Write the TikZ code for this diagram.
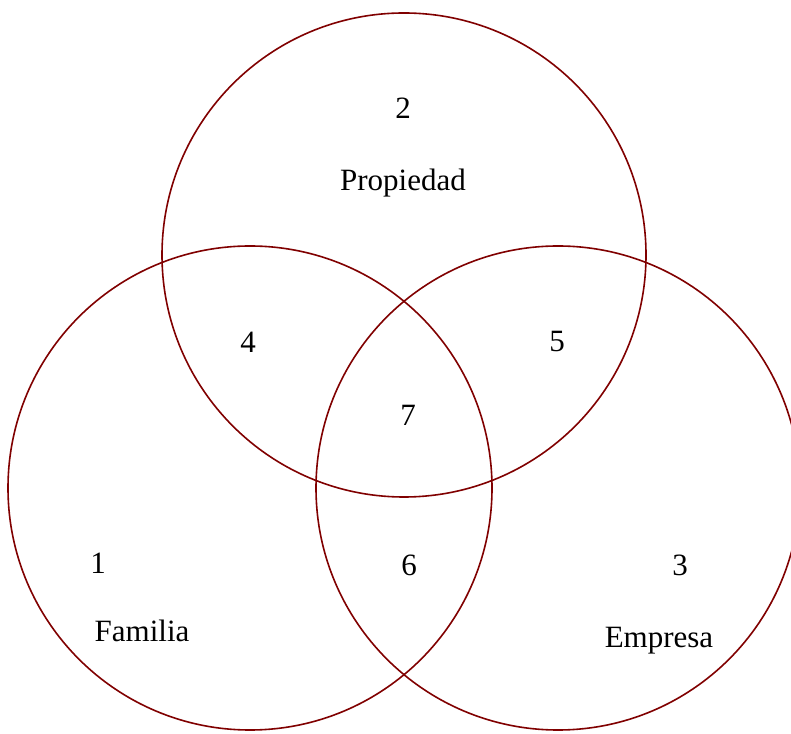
\documentclass[tikz,border=0pt]{standalone}
\usepackage{fontspec}
\setmainfont{Liberation Serif}
\usepackage{xcolor}
\definecolor{vennred}{HTML}{800000}

\begin{document}
\begin{tikzpicture}[x=1pt, y=1pt,
    venn/.style={circle, draw=vennred, line width=1.6pt, minimum size=484pt, inner sep=0pt},
    lbl/.style={font=\fontsize{31}{36}\selectfont, inner sep=0pt}]
% parameters (?)
\def\rad{242}
\useasboundingbox (0,0) rectangle (791,733);
% Draw the three circles
    \node[venn] (prop) at (404, 478) {};
    \node[venn] (fam) at (250, 245) {};
    \node[venn] (emp) at (558, 245) {};
% Draw the region numbers
    \node[lbl] (n2) at (403, 625) {2};
    \node[lbl] (n4) at (248, 391) {4};
    \node[lbl] (n5) at (557, 391) {5};
    \node[lbl] (n7) at (408, 318) {7};
    \node[lbl] (n1) at (98, 170) {1};
    \node[lbl] (n6) at (409, 168) {6};
    \node[lbl] (n3) at (680, 168) {3};
% Draw the set names
    \node[lbl] (propname) at (403, 550) {Propiedad};
    \node[lbl] (famname) at (142, 102) {Familia};
    \node[lbl] (empname) at (659, 92) {Empresa};
\end{tikzpicture}
\end{document}
